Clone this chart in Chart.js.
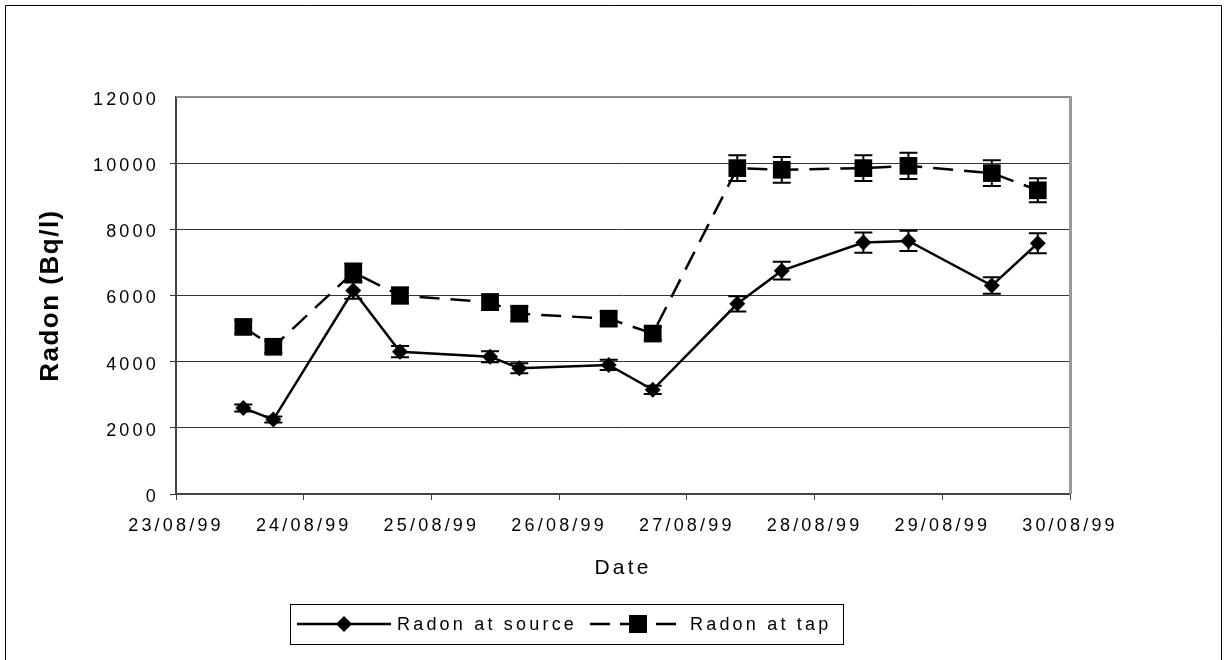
<!DOCTYPE html>
<html><head><meta charset="utf-8">
<script src="https://cdn.jsdelivr.net/npm/chart.js@4"></script>
<style>html,body{margin:0;padding:0;background:#fff}#wrap{position:relative;width:1227px;height:660px}canvas{display:block}</style>
</head><body><div id="wrap"><canvas id="c" width="1227" height="660"></canvas></div>
<script>
const xTickLabels = ['23/08/99','24/08/99','25/08/99','26/08/99','27/08/99','28/08/99','29/08/99','30/08/99'];
const sampleDays = [23.527, 23.762, 24.388, 24.754, 25.459, 25.688, 26.388, 26.733, 27.395, 27.743, 28.382, 28.735, 29.388, 29.748];
const sourceValues = [2600, 2250, 6150, 4300, 4150, 3800, 3900, 3150, 5750, 6750, 7600, 7650, 6300, 7580];
const tapValues = [5050, 4450, 6700, 6000, 5800, 5450, 5300, 4850, 9850, 9800, 9850, 9920, 9700, 9180];
const sourceErrors = [105, 90, 245, 170, 165, 150, 155, 125, 230, 270, 305, 305, 250, 305];
const tapErrors = [200, 180, 270, 240, 230, 220, 210, 195, 390, 390, 390, 395, 390, 365];
const seriesLabels = ['Radon at source', 'Radon at tap'];
const yTitle = 'Radon (Bq/l)';

const FONT = "'Liberation Sans', Arial, sans-serif";
const SPACING = '3.2px';

const spacingPlugin = {
  id: 'spacing',
  beforeUpdate(c) { c.ctx.letterSpacing = SPACING; },
  beforeLayout(c) { c.ctx.letterSpacing = SPACING; },
  beforeDraw(c) { c.ctx.letterSpacing = SPACING; }
};

const framePlugin = {
  id: 'frame',
  beforeDraw(c) {
    const ctx = c.ctx;
    ctx.save();
    ctx.strokeStyle = '#000';
    ctx.lineWidth = 1;
    ctx.beginPath();
    ctx.moveTo(5.5, 700); ctx.lineTo(5.5, 5.5); ctx.lineTo(1221.5, 5.5); ctx.lineTo(1221.5, 700);
    ctx.stroke();
    ctx.restore();
  },
  afterDraw(c) {
    const a = c.chartArea, ctx = c.ctx;
    ctx.save();
    ctx.strokeStyle = '#8c8c8c';
    ctx.lineWidth = 2;
    ctx.beginPath();
    ctx.moveTo(a.left, a.top); ctx.lineTo(a.right, a.top);
    ctx.stroke();
    ctx.strokeStyle = '#9a9a9a';
    ctx.lineWidth = 3;
    ctx.beginPath();
    ctx.moveTo(a.right + 0.5, a.top - 1); ctx.lineTo(a.right + 0.5, a.bottom);
    ctx.stroke();
    // y axis title
    ctx.letterSpacing = '1.5px';
    ctx.fillStyle = '#000';
    ctx.font = 'bold 26px ' + FONT;
    ctx.textAlign = 'center';
    ctx.textBaseline = 'middle';
    ctx.translate(51, (a.top + a.bottom) / 2);
    ctx.rotate(-Math.PI / 2);
    ctx.fillText(yTitle, 0, 0);
    ctx.restore();
  }
};

const errorBarPlugin = {
  id: 'errorBars',
  afterDatasetsDraw(c) {
    const ctx = c.ctx, ys = c.scales.y;
    const errs = [sourceErrors, tapErrors];
    ctx.save();
    ctx.strokeStyle = '#000';
    ctx.lineWidth = 2;
    c.data.datasets.forEach((ds, di) => {
      const meta = c.getDatasetMeta(di);
      meta.data.forEach((pt, i) => {
        const v = ds.data[i].y, e = errs[di][i];
        const yt = ys.getPixelForValue(v + e), yb = ys.getPixelForValue(v - e);
        const x = pt.x, hw = 9;
        ctx.beginPath();
        ctx.moveTo(x, yt); ctx.lineTo(x, yb);
        ctx.moveTo(x - hw, yt); ctx.lineTo(x + hw, yt);
        ctx.moveTo(x - hw, yb); ctx.lineTo(x + hw, yb);
        ctx.stroke();
      });
    });
    ctx.restore();
  }
};

const legendPlugin = {
  id: 'customLegend',
  afterDraw(c) {
    const ctx = c.ctx;
    ctx.save();
    ctx.letterSpacing = SPACING;
    const bx = 290, by = 604, bw = 553, bh = 40, cy = by + bh / 2;
    ctx.strokeStyle = '#000';
    ctx.lineWidth = 1;
    ctx.strokeRect(bx + 0.5, by + 0.5, bw, bh);
    ctx.fillStyle = '#000';
    ctx.strokeStyle = '#000';
    ctx.lineWidth = 2.5;
    // source sample
    ctx.beginPath(); ctx.moveTo(297, cy); ctx.lineTo(391, cy); ctx.stroke();
    ctx.beginPath(); ctx.moveTo(344, cy - 8); ctx.lineTo(352, cy); ctx.lineTo(344, cy + 8); ctx.lineTo(336, cy); ctx.closePath(); ctx.fill();
    // tap sample
    ctx.beginPath(); ctx.moveTo(590, cy); ctx.lineTo(610, cy); ctx.moveTo(656, cy); ctx.lineTo(676, cy); ctx.stroke();
    ctx.beginPath(); ctx.moveTo(620, cy); ctx.lineTo(638, cy); ctx.stroke();
    ctx.fillRect(629, cy - 9, 18, 18);
    ctx.font = '18px ' + FONT;
    ctx.textBaseline = 'middle';
    ctx.textAlign = 'left';
    ctx.fillText(seriesLabels[0], 397, cy + 1);
    ctx.fillText(seriesLabels[1], 690, cy + 1);
    ctx.restore();
  }
};

new Chart(document.getElementById('c'), {
  type: 'line',
  data: {
    datasets: [
      {
        label: seriesLabels[0],
        data: sampleDays.map((d, i) => ({ x: d, y: sourceValues[i] })),
        borderColor: '#000', backgroundColor: '#000', borderWidth: 2.5,
        pointStyle: 'rectRot', pointRadius: 8, pointBorderWidth: 0,
        pointBackgroundColor: '#000', tension: 0, fill: false
      },
      {
        label: seriesLabels[1],
        data: sampleDays.map((d, i) => ({ x: d, y: tapValues[i] })),
        borderColor: '#000', backgroundColor: '#000', borderWidth: 2.5,
        borderDash: [20, 11],
        pointStyle: 'rect', pointRadius: 12.5, pointBorderWidth: 0,
        pointBackgroundColor: '#000', tension: 0, fill: false
      }
    ]
  },
  options: {
    responsive: false,
    animation: false,
    devicePixelRatio: 1,
    layout: { padding: { top: 97, right: 157, bottom: 76, left: 0 } },
    plugins: { legend: { display: false }, tooltip: { enabled: false } },
    scales: {
      x: {
        type: 'linear', min: 23, max: 30,
        afterFit(s) { s.height = 90; },
        ticks: { stepSize: 1, color: '#000', font: { family: FONT, size: 18 }, padding: 15,
          callback: (v, i) => xTickLabels[i] },
        grid: { display: true, drawOnChartArea: false, drawTicks: true, tickLength: 6, color: '#444', lineWidth: 1 },
        border: { display: true, color: '#444', width: 2 },
        title: { display: true, text: 'Date', color: '#000', font: { family: FONT, size: 21 }, padding: { top: 0, bottom: 3 } }
      },
      y: {
        min: 0, max: 12000,
        afterFit(s) { s.width = 176; },
        ticks: { stepSize: 2000, color: '#000', font: { family: FONT, size: 18 }, padding: 11, labelOffset: 3,
          callback: (v) => String(v) },
        grid: { display: true, drawOnChartArea: true, drawTicks: true, tickLength: 6,
          color: (ctx) => ctx.tick && ctx.tick.value === 12000 ? 'rgba(0,0,0,0)' : '#333', lineWidth: 1 },
        border: { display: true, color: '#444', width: 2 },
        title: { display: false }
      }
    }
  },
  plugins: [spacingPlugin, framePlugin, errorBarPlugin, legendPlugin]
});
</script></body></html>
